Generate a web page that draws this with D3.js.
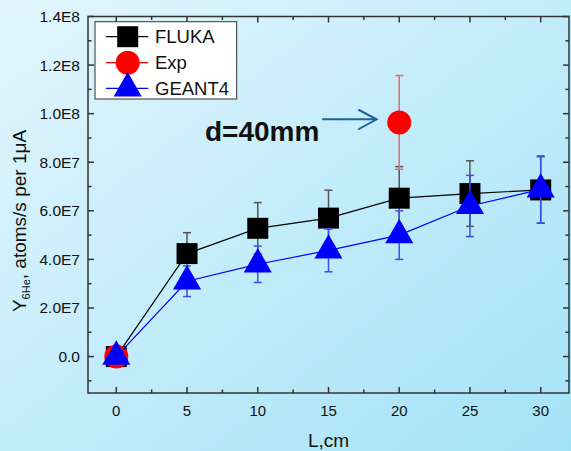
<!DOCTYPE html>
<meta charset="utf-8">
<style>
  body { margin: 0; }
  svg { display: block; font-family: Arial, "Liberation Sans", sans-serif; }
</style>
<body>
<script src="https://d3js.org/d3.v7.min.js"></script>
<script>
  'use strict';

  // values
  const distance = [0, 5, 10, 15, 20, 25, 30];
  const flukaYield = [0, 4.24e7, 5.28e7, 5.7e7, 6.52e7, 6.71e7, 6.86e7];
  const flukaErr = [0, 0.86e7, 1.06e7, 1.15e7, 1.3e7, 1.35e7, 1.37e7];
  const geantYield = [0, 3.1e7, 3.8e7, 4.37e7, 5.0e7, 6.2e7, 6.88e7];
  const geantErr = [0, 0.63e7, 0.75e7, 0.88e7, 1.0e7, 1.26e7, 1.38e7];
  const expDistance = [0, 20];
  const expYield = [0, 9.64e7];
  const expErr = [0, 1.93e7];
  const xTicks = [0, 5, 10, 15, 20, 25, 30];
  const yTicks = [0, 2e7, 4e7, 6e7, 8e7, 1e8, 1.2e8, 1.4e8];
  const yTickLabels = ["0.0", "2.0E7", "4.0E7", "6.0E7", "8.0E7", "1.0E8", "1.2E8", "1.4E8"];

  const W = 571, H = 451;
  const plotL = 88, plotR = 569, plotT = 16.5, plotB = 393;

  const x = d3.scaleLinear().domain([-2, 32]).range([plotL, plotR]);
  const y = d3.scaleLinear().domain([-1.5e7, 1.4e8]).range([plotB, plotT]);

  const svg = d3.select("body").append("svg")
      .attr("width", W).attr("height", H);

  const grad = svg.append("defs").append("linearGradient")
      .attr("id", "bg").attr("x1", 0).attr("y1", 0).attr("x2", 1).attr("y2", 1);
  grad.append("stop").attr("offset", "0%").attr("stop-color", "#e2f6fd");
  grad.append("stop").attr("offset", "100%").attr("stop-color", "#a4e2f7");
  svg.append("rect").attr("width", W).attr("height", H).attr("fill", "url(#bg)");

  // frame and inward ticks
  const axisCol = "#333";
  const majLen = 6, minLen = 3.5;
  const xMinor = d3.range(-2.5, 32.1, 2.5).filter(v => v > -2 && v < 32 && v % 5 !== 0);
  const yMinor = d3.range(-1e7, 1.4e8, 2e7);

  const axes = svg.append("g").attr("stroke", axisCol).attr("stroke-width", 1.5).attr("fill", "none");
  axes.append("rect").attr("x", plotL).attr("y", plotT).attr("width", plotR - plotL).attr("height", plotB - plotT);

  [[plotB, -1], [plotT, 1]].forEach(([yy, dir]) => {
    xTicks.forEach(v => axes.append("line").attr("x1", x(v)).attr("x2", x(v))
        .attr("y1", yy).attr("y2", yy + dir * majLen));
    xMinor.forEach(v => axes.append("line").attr("x1", x(v)).attr("x2", x(v))
        .attr("y1", yy).attr("y2", yy + dir * minLen));
  });
  [[plotL, 1], [plotR, -1]].forEach(([xx, dir]) => {
    yTicks.forEach(v => axes.append("line").attr("y1", y(v)).attr("y2", y(v))
        .attr("x1", xx).attr("x2", xx + dir * majLen));
    yMinor.forEach(v => axes.append("line").attr("y1", y(v)).attr("y2", y(v))
        .attr("x1", xx).attr("x2", xx + dir * minLen));
  });

  svg.append("g").selectAll("text").data(xTicks).join("text")
      .attr("x", d => x(d)).attr("y", 415.5)
      .attr("text-anchor", "middle").attr("font-size", 15).attr("fill", "#111")
      .text(d => d);
  svg.append("g").selectAll("text").data(yTicks).join("text")
      .attr("x", 80).attr("y", d => y(d) + 5.5)
      .attr("text-anchor", "end").attr("font-size", 15.5).attr("fill", "#111")
      .text((d, i) => yTickLabels[i]);

  svg.append("text").attr("x", (plotL + plotR) / 2).attr("y", 447)
      .attr("text-anchor", "middle").attr("font-size", 19).attr("fill", "#111")
      .text("L,cm");

  const yt = svg.append("text").attr("transform", "translate(26,221) rotate(-90)")
      .attr("text-anchor", "middle").attr("font-size", 19).attr("fill", "#111");
  yt.append("tspan").text("Y");
  yt.append("tspan").attr("font-size", 11).attr("dy", 4).text("6He");
  yt.append("tspan").attr("dy", -4).text(", atoms/s per 1\u03bcA");

  // series
  const sym = {
    square: d3.symbol(d3.symbolSquare, 21 * 21),
    circle: d3.symbol(d3.symbolCircle, Math.PI * 12 * 12),
    triangle: d3.symbol(d3.symbolTriangle, 28 * 24.5 / 2)
  };

  const series = [
    {name: "FLUKA", xs: distance, ys: flukaYield, err: flukaErr, color: "#000", errColor: "#555", shape: "square", line: true},
    {name: "Exp", xs: expDistance, ys: expYield, err: expErr, color: "#ff0000", errColor: "#e86a6a", shape: "circle", line: false},
    {name: "GEANT4", xs: distance, ys: geantYield, err: geantErr, color: "#0000ff", errColor: "#3a4ff0", shape: "triangle", line: true}
  ];

  const line = d3.line().x(d => x(d[0])).y(d => y(d[1]));

  series.forEach(s => {
    const pts = s.xs.map((v, i) => [v, s.ys[i], s.err[i]]);
    const g = svg.append("g");
    if (s.line) {
      g.append("path").attr("d", line(pts)).attr("fill", "none")
          .attr("stroke", s.color).attr("stroke-width", 1.2);
    }
    const eb = g.append("g").attr("stroke", s.errColor).attr("stroke-width", 1.5);
    pts.filter(p => p[2] > 0).forEach(p => {
      const cx = x(p[0]), y1 = y(p[1] + p[2]), y2 = y(p[1] - p[2]);
      eb.append("line").attr("x1", cx).attr("x2", cx).attr("y1", y1).attr("y2", y2);
      eb.append("line").attr("x1", cx - 4).attr("x2", cx + 4).attr("y1", y1).attr("y2", y1);
      eb.append("line").attr("x1", cx - 4).attr("x2", cx + 4).attr("y1", y2).attr("y2", y2);
    });
    g.selectAll("path.pt").data(pts).join("path").attr("class", "pt")
        .attr("transform", d => `translate(${x(d[0])},${y(d[1])})`)
        .attr("d", sym[s.shape]()).attr("fill", s.color);
  });

  // legend
  const lg = svg.append("g");
  lg.append("rect").attr("x", 95).attr("y", 21.7).attr("width", 141.7).attr("height", 77.3)
      .attr("fill", "#fff").attr("stroke", "#333").attr("stroke-width", 1);
  const legY = [36.7, 62.7, 88.3];
  series.forEach((s, i) => {
    lg.append("line").attr("x1", 106).attr("x2", 148.3).attr("y1", legY[i]).attr("y2", legY[i])
        .attr("stroke", s.color).attr("stroke-width", 1.2);
    lg.append("path").attr("transform", `translate(127.7,${legY[i]})`)
        .attr("d", sym[s.shape]()).attr("fill", s.color);
    lg.append("text").attr("x", 155).attr("y", legY[i] + 6.6)
        .attr("font-size", 18.5).attr("fill", "#111").text(s.name);
  });

  // annotation
  svg.append("text").attr("x", 205).attr("y", 140.5)
      .attr("font-size", 28).attr("font-weight", "bold").attr("fill", "#111")
      .text("d=40mm");
  const arr = svg.append("g").attr("stroke", "#1f5f9e").attr("stroke-width", 2)
      .attr("fill", "none").attr("stroke-linecap", "round");
  arr.append("line").attr("x1", 323).attr("x2", 376).attr("y1", 119.3).attr("y2", 119.3);
  arr.append("polyline").attr("points", "359,110 376.5,119.3 359,129");
</script>
</body>
